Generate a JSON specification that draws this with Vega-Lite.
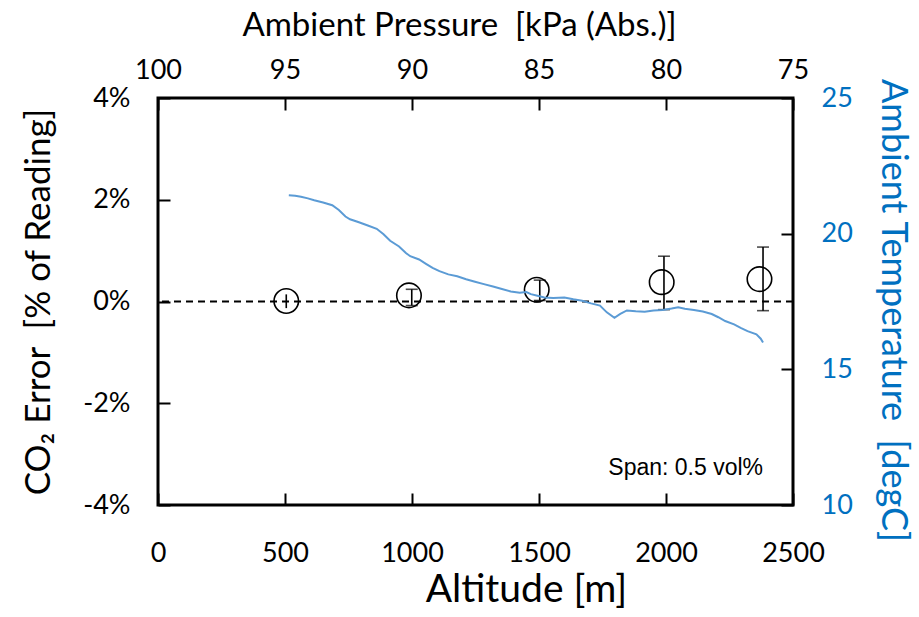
{
  "$schema": "https://vega.github.io/schema/vega-lite/v6.json",
  "width": 635,
  "height": 407,
  "autosize": "none",
  "padding": {"left": 158, "top": 98, "right": 126, "bottom": 112},
  "background": "white",
  "datasets": {
    "errors": [
      {"alt": 505, "altb": 505, "err": 0.01, "lo": -0.13, "hi": 0.14},
      {"alt": 988, "altb": 999, "err": 0.12, "lo": -0.08, "hi": 0.24},
      {"alt": 1491, "altb": 1503, "err": 0.23, "lo": 0.02, "hi": 0.42},
      {"alt": 1983, "altb": 1992, "err": 0.38, "lo": -0.16, "hi": 0.89},
      {"alt": 2368, "altb": 2382, "err": 0.44, "lo": -0.18, "hi": 1.07}
    ],
    "temp": [
      {"alt": 515, "t": 21.42}, {"alt": 540, "t": 21.40}, {"alt": 563, "t": 21.36}, {"alt": 590, "t": 21.30}, {"alt": 615, "t": 21.23},
      {"alt": 650, "t": 21.15}, {"alt": 686, "t": 21.05}, {"alt": 712, "t": 20.87},
      {"alt": 738, "t": 20.63}, {"alt": 756, "t": 20.53}, {"alt": 791, "t": 20.42},
      {"alt": 826, "t": 20.30}, {"alt": 861, "t": 20.18}, {"alt": 888, "t": 19.98},
      {"alt": 914, "t": 19.74}, {"alt": 949, "t": 19.53}, {"alt": 976, "t": 19.29},
      {"alt": 993, "t": 19.17}, {"alt": 1028, "t": 19.05}, {"alt": 1055, "t": 18.89},
      {"alt": 1081, "t": 18.74}, {"alt": 1108, "t": 18.62}, {"alt": 1143, "t": 18.50},
      {"alt": 1178, "t": 18.43}, {"alt": 1213, "t": 18.32}, {"alt": 1248, "t": 18.23},
      {"alt": 1283, "t": 18.14}, {"alt": 1319, "t": 18.05}, {"alt": 1354, "t": 17.96},
      {"alt": 1389, "t": 17.87}, {"alt": 1424, "t": 17.82}, {"alt": 1450, "t": 17.85},
      {"alt": 1468, "t": 17.77}, {"alt": 1494, "t": 17.71}, {"alt": 1521, "t": 17.65},
      {"alt": 1556, "t": 17.63}, {"alt": 1600, "t": 17.65}, {"alt": 1635, "t": 17.58},
      {"alt": 1670, "t": 17.53}, {"alt": 1705, "t": 17.43}, {"alt": 1740, "t": 17.35},
      {"alt": 1767, "t": 17.10}, {"alt": 1797, "t": 16.90}, {"alt": 1820, "t": 17.04},
      {"alt": 1846, "t": 17.17}, {"alt": 1881, "t": 17.14}, {"alt": 1916, "t": 17.12},
      {"alt": 1951, "t": 17.17}, {"alt": 1987, "t": 17.19}, {"alt": 2022, "t": 17.24},
      {"alt": 2048, "t": 17.29}, {"alt": 2074, "t": 17.23}, {"alt": 2110, "t": 17.19},
      {"alt": 2145, "t": 17.13}, {"alt": 2180, "t": 17.04}, {"alt": 2206, "t": 16.92},
      {"alt": 2233, "t": 16.78}, {"alt": 2268, "t": 16.66}, {"alt": 2294, "t": 16.53},
      {"alt": 2321, "t": 16.41}, {"alt": 2356, "t": 16.29}, {"alt": 2373, "t": 16.13},
      {"alt": 2382, "t": 15.99}
    ],
    "pressure": [{"p": 100}, {"p": 75}],
    "note": [{"label": "Span: 0.5 vol%"}]
  },
  "layer": [
    {
      "data": {"name": "errors"},
      "mark": {"type": "point", "shape": "circle", "filled": false, "stroke": "black", "strokeWidth": 1.6, "size": 600, "opacity": 1},
      "encoding": {
        "x": {
          "field": "alt", "type": "quantitative",
          "scale": {"domain": [0, 2500], "nice": false},
          "axis": {"title": "Altitude [m]", "values": [0, 500, 1000, 1500, 2000, 2500], "format": "d", "offset": -12, "tickSize": 12, "tickColor": "black", "tickWidth": 2, "labelFlush": false, "labelPadding": 35, "titleFontSize": 39, "titlePadding": 4, "titleX": 368}
        },
        "y": {
          "field": "err", "type": "quantitative",
          "scale": {"domain": [-4, 4], "nice": false},
          "axis": {"title": "CO₂ Error \u00a0[% of Reading]", "values": [-4, -2, 0, 2, 4], "labelExpr": "datum.value + '%'", "offset": -12, "tickSize": 12, "tickColor": "black", "tickWidth": 2, "labelPadding": 28, "titleFontSize": 35, "titlePadding": 26}
        }
      }
    },
    {
      "data": {"name": "note"},
      "mark": {"type": "rule", "strokeDash": [7, 5], "strokeWidth": 2, "color": "black"},
      "encoding": {
        "y": {"datum": 0, "type": "quantitative", "scale": {"domain": [-4, 4], "nice": false}, "axis": null}
      }
    },
    {
      "data": {"name": "errors"},
      "mark": {"type": "rule", "color": "black", "strokeWidth": 1.6},
      "encoding": {
        "x": {"field": "altb", "type": "quantitative", "scale": {"domain": [0, 2500], "nice": false}, "axis": null},
        "y": {"field": "lo", "type": "quantitative", "scale": {"domain": [-4, 4], "nice": false}, "axis": null},
        "y2": {"field": "hi"}
      }
    },
    {
      "data": {"name": "errors"},
      "transform": [{"filter": "datum.alt > 600"}],
      "mark": {"type": "tick", "orient": "horizontal", "color": "black", "thickness": 1.6, "size": 12},
      "encoding": {
        "x": {"field": "altb", "type": "quantitative", "scale": {"domain": [0, 2500], "nice": false}, "axis": null},
        "y": {"field": "hi", "type": "quantitative", "scale": {"domain": [-4, 4], "nice": false}, "axis": null}
      }
    },
    {
      "data": {"name": "errors"},
      "transform": [{"filter": "datum.alt > 600"}],
      "mark": {"type": "tick", "orient": "horizontal", "color": "black", "thickness": 1.6, "size": 12},
      "encoding": {
        "x": {"field": "altb", "type": "quantitative", "scale": {"domain": [0, 2500], "nice": false}, "axis": null},
        "y": {"field": "lo", "type": "quantitative", "scale": {"domain": [-4, 4], "nice": false}, "axis": null}
      }
    },
    {
      "data": {"name": "note"},
      "mark": {"type": "text", "align": "right", "baseline": "middle", "font": "Liberation Sans", "fontSize": 23, "color": "black"},
      "encoding": {
        "x": {"datum": 2382, "type": "quantitative", "scale": {"domain": [0, 2500], "nice": false}, "axis": null},
        "y": {"datum": -3.28, "type": "quantitative", "scale": {"domain": [-4, 4], "nice": false}, "axis": null},
        "text": {"field": "label"}
      }
    },
    {
      "data": {"name": "temp"},
      "mark": {"type": "line", "color": "#5B9BD5", "strokeWidth": 2},
      "encoding": {
        "x": {"field": "alt", "type": "quantitative", "scale": {"domain": [0, 2500], "nice": false}, "axis": null},
        "y": {
          "field": "t", "type": "quantitative",
          "scale": {"domain": [10, 25], "nice": false},
          "axis": {"orient": "right", "title": "Ambient Temperature \u00a0[degC]", "values": [10, 15, 20, 25], "labelColor": "#0070C0", "titleColor": "#0070C0", "offset": -12, "tickSize": 12, "tickColor": "black", "tickWidth": 2, "labelPadding": 28, "titleFontSize": 36, "titlePadding": 21, "titleY": 212}
        }
      }
    },
    {
      "data": {"name": "pressure"},
      "mark": {"type": "point", "opacity": 0},
      "encoding": {
        "x": {
          "field": "p", "type": "quantitative",
          "scale": {"domain": [75, 100], "reverse": true, "nice": false},
          "axis": {"orient": "top", "title": "Ambient Pressure \u00a0[kPa (Abs.)]", "values": [100, 95, 90, 85, 80, 75], "offset": -12, "tickSize": 12, "tickColor": "black", "tickWidth": 2, "labelFlush": false, "labelPadding": 14, "titleFontSize": 33, "titlePadding": 14, "titleX": 301}
        }
      }
    }
  ],
  "resolve": {"scale": {"x": "independent", "y": "independent"}},
  "config": {
    "view": {"stroke": "black", "strokeWidth": 3},
    "axis": {
      "domain": false, "grid": false,
      "labelFont": "Lato", "labelFontSize": 27, "labelColor": "black",
      "titleFont": "Lato", "titleFontWeight": "normal", "titleColor": "black"
    }
  }
}
